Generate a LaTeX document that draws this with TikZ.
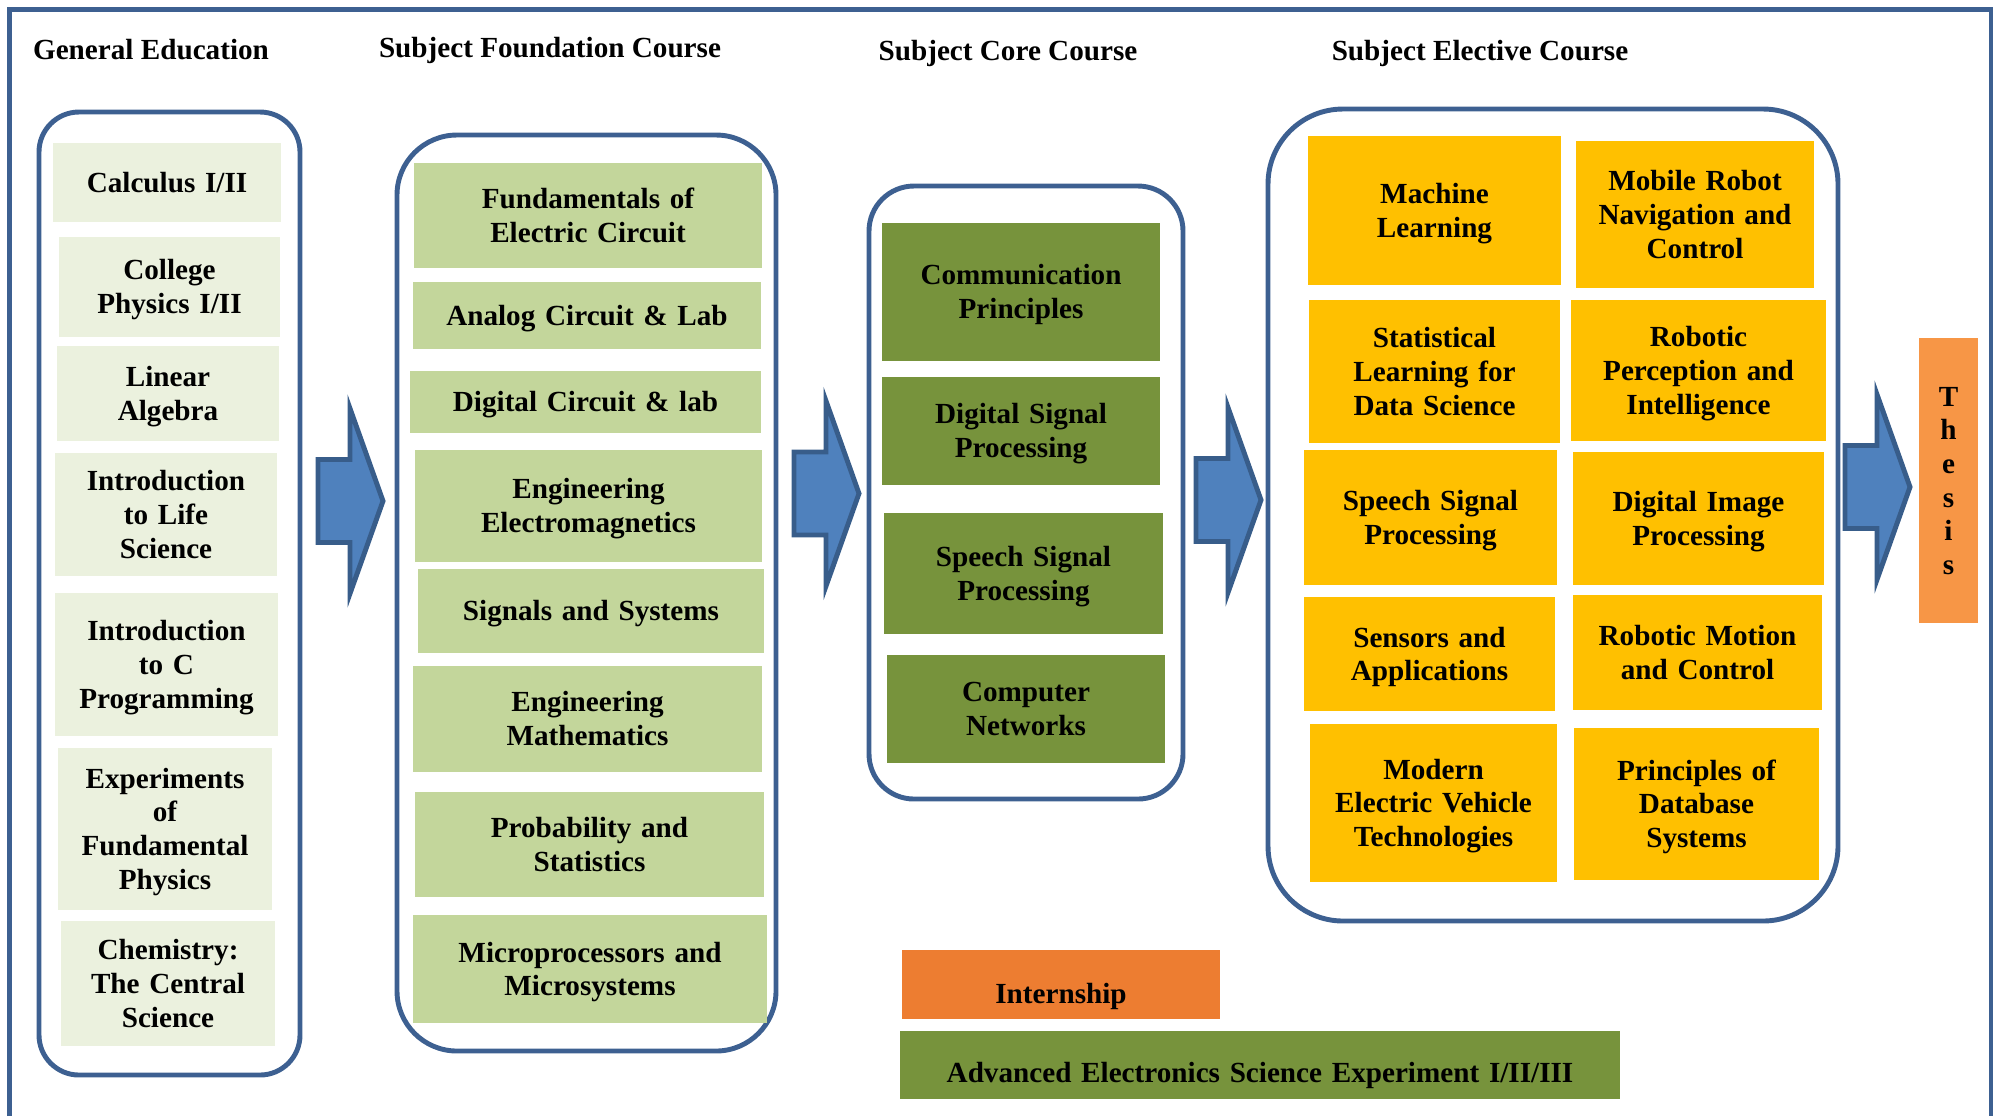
\documentclass[tikz,border=0pt]{standalone}
\usepackage{fontspec}
\setmainfont{Liberation Serif}
\usepackage{tikz}
\usetikzlibrary{shapes,arrows,positioning,calc}

\definecolor{framec}{RGB}{61,96,145}
\definecolor{genfill}{RGB}{235,241,222}
\definecolor{foundfill}{RGB}{195,214,155}
\definecolor{corefill}{RGB}{119,147,60}
\definecolor{electfill}{RGB}{255,192,0}
\definecolor{thesisfill}{RGB}{247,150,70}
\definecolor{internfill}{RGB}{237,125,49}
\definecolor{flowfill}{RGB}{79,129,189}
\definecolor{flowline}{RGB}{56,93,138}
\newcommand{\coursefont}{\fontsize{8.3}{9.6}\selectfont\bfseries}
\newcommand{\linestrut}{\rule[-0.216em]{0pt}{1.107em}}

\begin{document}
\begin{tikzpicture}[
    wh/.style 2 args = {minimum width=#1cm, minimum height=#2cm, text width=#1cm},
    column/.style = {rectangle, draw=framec, line width=1.4pt, inner sep=0pt},
    course/.style = {rectangle, inner sep=0pt, align=center, font=\coursefont,
        execute at begin node=\linestrut, execute at end node=\linestrut},
    gen/.style = {course, fill=genfill},
    found/.style = {course, fill=foundfill},
    core/.style = {course, fill=corefill},
    elect/.style = {course, fill=electfill},
    bar/.style = {rectangle, inner sep=0pt, align=center, font=\coursefont, text height=0.385cm, text depth=0cm},
    head/.style = {font=\coursefont},
    flow/.style = {draw=flowline, fill=flowfill, line width=1.4pt}
]
    \useasboundingbox (0,0) rectangle (19.95,-11.16);
    \draw[framec, line width=1.4pt] (0.095,-11.16) -- (0.095,-0.095) -- (19.91,-0.095) -- (19.91,-11.16);

    \node[head] (genhead) at (1.51,-0.495) {General Education};
    \node[head] (foundhead) at (5.50,-0.50) {Subject Foundation Course};
    \node[head] (corehead) at (10.08,-0.535) {Subject Core Course};
    \node[head] (electhead) at (14.80,-0.535) {Subject Elective Course};

    \node[column, rounded corners=0.4cm, wh={2.61}{9.63}] (genframe) at (1.695,-5.935) {};
    \node[gen, wh={2.28}{0.79}] (calc) at (1.67,-1.825) {Calculus I/II};
    \node[gen, wh={2.21}{1.00}] (phys) at (1.695,-2.87) {College\\Physics I/II};
    \node[gen, wh={2.22}{0.95}] (linalg) at (1.68,-3.935) {Linear\\Algebra};
    \node[gen, wh={2.22}{1.23}] (life) at (1.66,-5.145) {Introduction\\to Life\\Science};
    \node[gen, wh={2.23}{1.43}] (cprog) at (1.665,-6.645) {Introduction\\to C\\Programming};
    \node[gen, wh={2.14}{1.62}] (expphys) at (1.65,-8.29) {Experiments\\of\\Fundamental\\Physics};
    \node[gen, wh={2.14}{1.25}] (chem) at (1.68,-9.835) {Chemistry:\\The Central\\Science};

    \node[column, rounded corners=0.6cm, wh={3.79}{9.16}] (foundframe) at (5.865,-5.93) {};
    \node[found, wh={3.48}{1.05}] (circuit) at (5.88,-2.155) {Fundamentals of\\Electric Circuit};
    \node[found, wh={3.48}{0.67}] (analog) at (5.87,-3.155) {Analog Circuit \& Lab};
    \node[found, wh={3.51}{0.62}] (digital) at (5.855,-4.02) {Digital Circuit \& lab};
    \node[found, wh={3.47}{1.12}] (emag) at (5.885,-5.06) {Engineering\\Electromagnetics};
    \node[found, wh={3.46}{0.84}] (sigsys) at (5.91,-6.11) {Signals and Systems};
    \node[found, wh={3.49}{1.06}] (engmath) at (5.875,-7.19) {Engineering\\Mathematics};
    \node[found, wh={3.49}{1.05}] (prob) at (5.895,-8.445) {Probability and\\Statistics};
    \node[found, wh={3.54}{1.08}] (micro) at (5.90,-9.69) {Microprocessors and\\Microsystems};

    \node[column, rounded corners=0.45cm, wh={3.14}{6.13}] (coreframe) at (10.26,-4.925) {};
    \node[core, wh={2.78}{1.38}] (comm) at (10.21,-2.92) {Communication\\Principles};
    \node[core, wh={2.78}{1.08}] (dsp) at (10.21,-4.31) {Digital Signal\\Processing};
    \node[core, wh={2.79}{1.21}] (speech) at (10.235,-5.735) {Speech Signal\\Processing};
    \node[core, wh={2.78}{1.08}] (network) at (10.26,-7.09) {Computer\\Networks};

    \node[column, rounded corners=0.75cm, wh={5.70}{8.12}] (electframe) at (15.53,-5.15) {};
    \node[elect, wh={2.53}{1.49}] (ml) at (14.345,-2.105) {Machine\\Learning};
    \node[elect, wh={2.51}{1.43}] (statlearn) at (14.345,-3.715) {Statistical\\Learning for\\Data Science};
    \node[elect, wh={2.53}{1.35}] (speechel) at (14.305,-5.175) {Speech Signal\\Processing};
    \node[elect, wh={2.51}{1.14}] (sensor) at (14.295,-6.54) {Sensors and\\Applications};
    \node[elect, wh={2.47}{1.58}] (ev) at (14.335,-8.03) {Modern\\Electric Vehicle\\Technologies};
    \node[elect, wh={2.38}{1.47}] (navig) at (16.95,-2.145) {Mobile Robot\\Navigation and\\Control};
    \node[elect, wh={2.55}{1.41}] (percep) at (16.985,-3.705) {Robotic\\Perception and\\Intelligence};
    \node[elect, wh={2.51}{1.33}] (image) at (16.985,-5.185) {Digital Image\\Processing};
    \node[elect, wh={2.49}{1.15}] (motion) at (16.975,-6.525) {Robotic Motion\\and Control};
    \node[elect, wh={2.45}{1.52}] (database) at (16.965,-8.04) {Principles of\\Database\\Systems};

    \node[course, fill=thesisfill, wh={0.59}{2.85}] (thesis) at (19.485,-4.805) {T\\h\\e\\s\\i\\s};
    \node[bar, fill=internfill, wh={3.18}{0.69}] (intern) at (10.61,-9.845) {Internship};
    \node[bar, fill=corefill, wh={7.20}{0.68}, text height=0.345cm] (advexp) at (12.60,-10.65) {Advanced Electronics Science Experiment I/II/III};

    \coordinate (flow1) at (3.18,-5.01);
    \coordinate (flow2) at (7.94,-4.935);
    \coordinate (flow3) at (11.96,-5.0);
    \coordinate (flow4) at (18.45,-4.87);
    \foreach \pos in {flow1,flow2,flow3,flow4}
        \draw[flow] (\pos) ++(0,0.415) -- ++(0.32,0) -- ++(0,0.51) -- ++(0.33,-0.925)
            -- ++(-0.33,-0.925) -- ++(0,0.51) -- ++(-0.32,0) -- cycle;
\end{tikzpicture}
\end{document}
